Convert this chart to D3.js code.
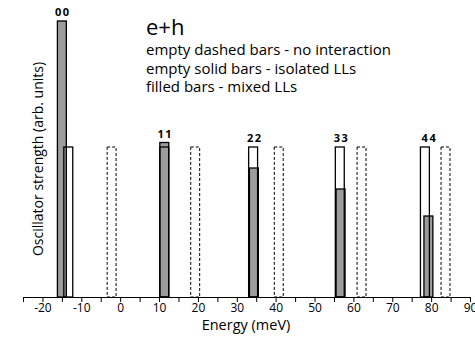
<!DOCTYPE html>
<html>
<head>
<meta charset="utf-8">
<script src="https://d3js.org/d3.v7.min.js"></script>
<style>
body { margin: 0; background: #fff; }
text { font-family: "Open Sans", sans-serif; fill: #000; }
</style>
</head>
<body>
<div id="chart"></div>
<script>
// pair labels and bar data (energies in meV, heights in arb. units)
var labels  = ["00", "11", "22", "33", "44"];
var dashedE = [-2.2, 19.3, 40.8, 62.1, 83.7];
var dashedH = [1, 1, 1, 1, 1];
var solidE  = [-13.35, 11.35, 34.2, 56.5, 78.4];
var solidH  = [1, 1, 1, 1, 1];
var filledE = [-15.0, 11.35, 34.4, 56.7, 79.3];
var filledH = [1.84, 1.03, 0.86, 0.72, 0.54];
var xTicks  = d3.range(-25, 91, 5);
var legendLines = ["empty dashed bars - no interaction",
                   "empty solid bars - isolated LLs",
                   "filled bars - mixed LLs"];

var barW = 2.3;
var W = 475, H = 343;

var svg = d3.select("#chart").append("svg")
  .attr("width", W).attr("height", H);

var x = d3.scaleLinear().domain([-25, 90]).range([23, 470]);
var y = d3.scaleLinear().domain([0, 1]).range([297, 147]);

function bars(E, Hs) {
  return E.map(function(e, i) { return {e: e, h: Hs[i]}; });
}

function drawBars(cls, E, Hs, fill, dash) {
  svg.selectAll("rect." + cls)
    .data(bars(E, Hs))
    .enter().append("rect")
      .attr("class", cls)
      .attr("x", function(d) { return x(d.e - barW / 2); })
      .attr("width", function(d) { return x(d.e + barW / 2) - x(d.e - barW / 2); })
      .attr("y", function(d) { return y(d.h); })
      .attr("height", function(d) { return y(0) - y(d.h); })
      .attr("fill", fill)
      .attr("stroke", "#000")
      .attr("stroke-width", dash ? 1 : 1.3)
      .attr("stroke-dasharray", dash);
}

// filled first, then empty outlines on top
drawBars("filled", filledE, filledH, "#9c9c9c", null);
drawBars("solid", solidE, solidH, "none", null);
drawBars("dashed", dashedE, dashedH, "none", "3,2");

// pair labels above the tallest bar of each group
svg.selectAll("text.pair")
  .data(labels)
  .enter().append("text")
    .attr("class", "pair")
    .attr("x", function(d, i) { return x(filledE[i]) + 1; })
    .attr("y", function(d, i) { return y(Math.max(filledH[i], solidH[i])) - 5; })
    .attr("text-anchor", "middle")
    .style("font-size", "11px")
    .style("font-weight", "bold")
    .style("letter-spacing", "1.5px")
    .text(function(d) { return d; });

// x axis
var xAxis = d3.axisBottom(x)
  .tickValues(xTicks)
  .tickSize(5)
  .tickSizeOuter(0)
  .tickFormat(function(d) { return d % 10 === 0 ? String(d) : ""; });

var gx = svg.append("g")
  .attr("transform", "translate(0,297)")
  .call(xAxis);
gx.select(".domain").attr("stroke", "#000").attr("stroke-width", 1.2);
gx.selectAll(".tick line").attr("stroke", "#000");
gx.selectAll(".tick text")
  .attr("y", 6)
  .style("font-size", "12px")
  .style("font-family", "'Open Sans', sans-serif")
  .attr("fill", "#000");

svg.append("text")
  .attr("x", 246).attr("y", 330)
  .attr("text-anchor", "middle")
  .style("font-size", "14.5px")
  .text("Energy (meV)");

svg.append("text")
  .attr("transform", "translate(43,159) rotate(-90)")
  .attr("text-anchor", "middle")
  .style("font-size", "14px")
  .text("Oscillator strength (arb. units)");

// legend
svg.append("text")
  .attr("x", 146).attr("y", 35)
  .style("font-size", "22px")
  .text("e+h");

svg.selectAll("text.legend")
  .data(legendLines)
  .enter().append("text")
    .attr("class", "legend")
    .attr("x", 146)
    .attr("y", function(d, i) { return 55 + i * 18.5; })
    .style("font-size", "15px")
    .text(function(d) { return d; });
</script>
</body>
</html>
